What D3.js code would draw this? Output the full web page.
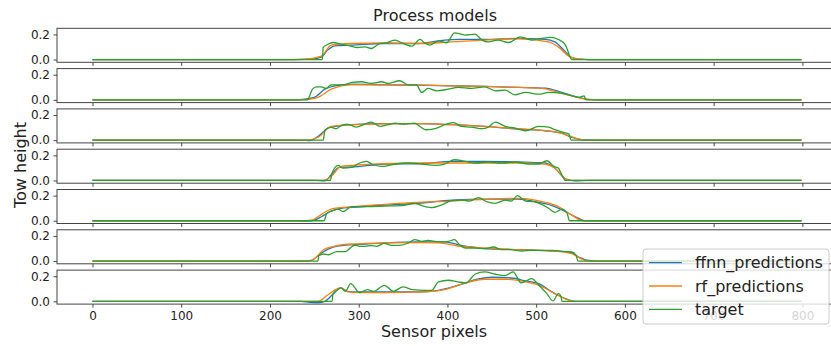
<!DOCTYPE html>
<html>
<head>
<meta charset="utf-8">
<script src="https://cdn.jsdelivr.net/npm/d3@7"></script>
<style>
  body { margin: 0; background: #fff; }
  svg { display: block; font-family: "DejaVu Sans", sans-serif; }
</style>
</head>
<body>
<svg id="chart"></svg>
<script>
// series names as in the legend
const seriesNames = ["ffnn_predictions", "rf_predictions", "target"];
const seriesColors = ["#1f77b4", "#ff7f0e", "#2ca02c"];
const xTicks = [0, 100, 200, 300, 400, 500, 600, 700, 800];
const yTicks = [0.0, 0.2];

// one list of [pixel, height] per subplot
const ffnn = [
  [[0,0],[230,0],[247,0.005],[258,0.02],[265,0.075],[273,0.109],[292,0.115],[329,0.128],[367,0.128],[397,0.155],[412,0.16],[442,0.16],[480,0.168],[510,0.16],[521,0.141],[533,0.061],[540,0.016],[548,0.003],[560,0],[799,0]],
  [[0,0],[230,0],[239,0.005],[250,0.019],[262,0.085],[273,0.112],[292,0.125],[329,0.12],[367,0.117],[405,0.112],[442,0.107],[480,0.099],[510,0.093],[529,0.059],[548,0.019],[559,0.003],[570,0],[799,0]],
  [[0,0],[235,0],[245,-0.004],[254,0.029],[267,0.101],[292,0.123],[329,0.131],[367,0.131],[405,0.123],[442,0.109],[480,0.088],[510,0.075],[529,0.056],[540,0.021],[552,0.003],[565,0],[799,0]],
  [[0,0],[250,0],[262,-0.003],[269,0.045],[278,0.104],[292,0.107],[329,0.131],[367,0.133],[405,0.152],[442,0.152],[480,0.147],[510,0.139],[521,0.099],[533,0.013],[544,-0.003],[560,0],[799,0]],
  [[0,0],[225,0],[237,-0.003],[247,0],[258,0.032],[269,0.077],[280,0.099],[292,0.107],[329,0.125],[367,0.139],[405,0.165],[442,0.173],[480,0.173],[499,0.152],[518,0.12],[533,0.072],[548,0.019],[555,0],[799,0]],
  [[0,0],[238,0],[246,0.003],[258,0.064],[271,0.11],[285,0.127],[300,0.133],[329,0.144],[367,0.152],[397,0.152],[412,0.131],[427,0.112],[442,0.099],[480,0.091],[518,0.08],[537,0.072],[548,0.032],[559,0.005],[570,0],[799,0]],
  [[0,0],[235,0],[245,-0.008],[255,-0.01],[262,0],[270,0.05],[280,0.107],[287,0.08],[299,0.075],[329,0.075],[367,0.075],[390,0.088],[412,0.128],[435,0.179],[450,0.192],[472,0.186],[488,0.163],[503,0.141],[518,0.075],[533,0.021],[544,0],[799,0]]
];

const rf = [
  [[0,0],[225,0],[239,0.003],[258,0.027],[269,0.115],[292,0.128],[329,0.133],[367,0.128],[405,0.141],[442,0.155],[480,0.165],[514,0.141],[525,0.101],[538,0.021],[548,0.005],[560,0],[799,0]],
  [[0,0],[232,0],[243,0.003],[254,0.019],[269,0.085],[292,0.12],[329,0.12],[367,0.12],[405,0.112],[442,0.107],[480,0.099],[506,0.091],[525,0.059],[544,0.024],[555,0.005],[565,0],[799,0]],
  [[0,0],[240,0],[254,0.021],[269,0.109],[292,0.123],[367,0.131],[405,0.123],[442,0.109],[480,0.091],[518,0.069],[537,0.035],[548,0.008],[555,0],[799,0]],
  [[0,0],[258,0],[269,0.032],[280,0.112],[292,0.12],[329,0.133],[367,0.139],[405,0.139],[442,0.139],[480,0.139],[510,0.131],[521,0.099],[533,0.013],[540,0],[799,0]],
  [[0,0],[235,0],[247,0.005],[258,0.051],[269,0.093],[292,0.112],[329,0.131],[367,0.147],[405,0.157],[442,0.171],[480,0.179],[510,0.147],[525,0.112],[540,0.045],[553,0],[799,0]],
  [[0,0],[235,0],[246,0.005],[254,0.045],[260,0.088],[271,0.115],[282,0.131],[300,0.137],[329,0.144],[367,0.147],[390,0.144],[412,0.12],[442,0.104],[480,0.091],[518,0.08],[540,0.059],[552,0.013],[559,0],[799,0]],
  [[0,0],[245,0],[254,0],[265,0.05],[279,0.107],[288,0.075],[300,0.07],[329,0.07],[375,0.075],[397,0.093],[420,0.147],[442,0.176],[465,0.176],[488,0.155],[506,0.12],[521,0.061],[537,0.008],[544,0],[799,0]]
];

const target = [
  [[0,0],[259,0],[260,0.096],[265,0.12],[271,0.136],[280,0.123],[290,0.109],[299,0.096],[307,0.101],[314,0.088],[324,0.128],[331,0.133],[341,0.155],[350,0.128],[360,0.107],[369,0.16],[375,0.128],[380,0.115],[390,0.149],[399,0.133],[408,0.213],[420,0.195],[431,0.203],[439,0.155],[446,0.141],[457,0.155],[469,0.136],[482,0.181],[495,0.155],[506,0.168],[516,0.176],[525,0.16],[533,0.115],[539,0.01],[540,0],[799,0]],
  [[0,0],[242,0],[248,0.085],[252,0.104],[258,0.104],[263,0.091],[269,0.12],[284,0.12],[292,0.139],[303,0.144],[314,0.131],[326,0.144],[333,0.131],[346,0.152],[356,0.12],[365,0.12],[371,0.059],[378,0.091],[388,0.072],[401,0.085],[412,0.099],[427,0.091],[442,0.104],[454,0.072],[465,0.077],[476,0.04],[488,0.059],[503,0.045],[514,0.059],[529,0.051],[540,0.032],[548,0.019],[554,0.032],[556,0],[799,0]],
  [[0,0],[260,0],[262,0.08],[269,0.101],[275,0.091],[278,0.107],[286,0.128],[292,0.117],[297,0.104],[307,0.128],[314,0.144],[324,0.109],[333,0.123],[341,0.136],[350,0.128],[363,0.136],[369,0.109],[376,0.083],[388,0.096],[397,0.123],[407,0.139],[416,0.109],[427,0.104],[439,0.091],[446,0.104],[454,0.144],[465,0.109],[476,0.096],[488,0.075],[503,0.109],[514,0.104],[521,0.083],[531,0.061],[537,0.048],[539,0.005],[540,0],[799,0]],
  [[0,0],[268,0],[270,0.06],[277,0.12],[282,0.099],[292,0.104],[301,0.139],[309,0.152],[316,0.125],[327,0.112],[341,0.131],[356,0.139],[371,0.131],[386,0.12],[397,0.131],[408,0.165],[420,0.152],[431,0.139],[446,0.147],[461,0.139],[476,0.147],[491,0.131],[503,0.131],[512,0.157],[520,0.112],[525,0.099],[528,0.059],[532,0.005],[533,0],[799,0]],
  [[0,0],[261,0],[264,0.059],[269,0.077],[277,0.093],[282,0.072],[292,0.112],[311,0.112],[329,0.117],[348,0.12],[363,0.139],[375,0.112],[382,0.104],[393,0.125],[405,0.16],[416,0.165],[425,0.157],[435,0.184],[444,0.152],[454,0.139],[465,0.165],[472,0.157],[479,0.2],[488,0.157],[497,0.152],[506,0.131],[514,0.099],[521,0.067],[529,0.093],[535,0.059],[537,0.005],[538,0],[799,0]],
  [[0,0],[254,0],[255,0.043],[260,0.056],[266,0.05],[275,0.075],[285,0.075],[290,0.101],[296,0.128],[301,0.117],[307,0.117],[314,0.123],[320,0.117],[329,0.141],[337,0.125],[346,0.125],[356,0.144],[363,0.171],[371,0.157],[378,0.165],[390,0.152],[401,0.157],[408,0.171],[414,0.125],[420,0.104],[431,0.104],[442,0.099],[452,0.112],[461,0.091],[472,0.091],[484,0.08],[495,0.085],[506,0.085],[518,0.085],[529,0.077],[540,0.072],[545,0.045],[547,0],[799,0]],
  [[0,0],[270,0],[271,0.06],[276,0.09],[280,0.107],[285,0.08],[291,0.141],[301,0.069],[310,0.093],[317,0.08],[329,0.128],[339,0.08],[350,0.115],[361,0.093],[375,0.088],[382,0.088],[390,0.155],[401,0.168],[412,0.155],[421,0.147],[431,0.216],[442,0.235],[454,0.216],[465,0.205],[474,0.235],[483,0.147],[495,0.181],[503,0.128],[512,0.061],[519,0.003],[525,0.061],[528,0.04],[529,0],[799,0]]
];

const W = 831, H = 346;
const left = 57, right = 837;
const top0 = 28.3, pitch = 40.3, panelH = 34;
const nPanels = target.length;

const svg = d3.select("#chart").attr("width", W).attr("height", H);
svg.append("rect").attr("width", W).attr("height", H).attr("fill", "#fff");

const x = d3.scaleLinear([-40, 839], [left, right]);
const y = d3.scaleLinear([-0.022, 0.249], [panelH, 0]);

const line = d3.line()
  .x(d => x(d[0]))
  .y(d => y(d[1]))
  .curve(d3.curveMonotoneX);

const allSeries = [ffnn, rf, target];

for (let i = 0; i < nPanels; i++) {
  const g = svg.append("g").attr("transform", `translate(0,${top0 + i * pitch})`);

  g.append("clipPath").attr("id", "clip" + i)
    .append("rect").attr("x", left).attr("y", 0)
    .attr("width", right - left).attr("height", panelH);

  const plot = g.append("g").attr("clip-path", `url(#clip${i})`);
  allSeries.forEach((s, k) => {
    plot.append("path")
      .datum(s[i])
      .attr("d", line)
      .attr("fill", "none")
      .attr("stroke", seriesColors[k])
      .attr("stroke-width", 1.3)
      .attr("stroke-linejoin", "round");
  });

  // spines
  g.append("rect")
    .attr("x", left).attr("y", 0)
    .attr("width", right - left).attr("height", panelH)
    .attr("fill", "none").attr("stroke", "#444").attr("stroke-width", 1);

  const last = i === nPanels - 1;
  const xAxis = g.append("g")
    .attr("transform", `translate(0,${panelH})`)
    .call(d3.axisBottom(x).tickValues(xTicks).tickSize(3.5).tickPadding(3.5)
      .tickFormat(last ? d3.format("d") : () => ""));
  const yAxis = g.append("g")
    .attr("transform", `translate(${left},0)`)
    .call(d3.axisLeft(y).tickValues(yTicks).tickSize(3.5).tickPadding(3.5)
      .tickFormat(d3.format(".1f")));

  [xAxis, yAxis].forEach(a => {
    a.select(".domain").remove();
    a.selectAll("line").attr("stroke", "#444");
    a.selectAll("text").attr("fill", "#222")
      .style("font-family", "DejaVu Sans").style("font-size", "12px");
  });
}

// title and axis labels
svg.append("text")
  .attr("x", 435).attr("y", 21)
  .attr("text-anchor", "middle")
  .attr("fill", "#222")
  .style("font-size", "16px")
  .text("Process models");

svg.append("text")
  .attr("x", 434).attr("y", 337)
  .attr("text-anchor", "middle")
  .attr("fill", "#222")
  .style("font-size", "16px")
  .text("Sensor pixels");

svg.append("text")
  .attr("transform", "translate(26,165) rotate(-90)")
  .attr("text-anchor", "middle")
  .attr("fill", "#222")
  .style("font-size", "16px")
  .text("Tow height");

// legend
const legend = svg.append("g").attr("transform", "translate(643,249)");
legend.append("rect")
  .attr("width", 186).attr("height", 75)
  .attr("rx", 3)
  .attr("fill", "#fff").attr("fill-opacity", 0.8)
  .attr("stroke", "#ccc").attr("stroke-width", 1);

seriesNames.forEach((name, k) => {
  const ly = 13.7 + k * 23.3;
  legend.append("line")
    .attr("x1", 6).attr("x2", 39)
    .attr("y1", ly).attr("y2", ly)
    .attr("stroke", seriesColors[k]).attr("stroke-width", 1.3);
  legend.append("text")
    .attr("x", 52).attr("y", ly)
    .attr("dy", "0.35em")
    .attr("fill", "#222")
    .style("font-size", "16px")
    .text(name);
});
</script>
</body>
</html>
